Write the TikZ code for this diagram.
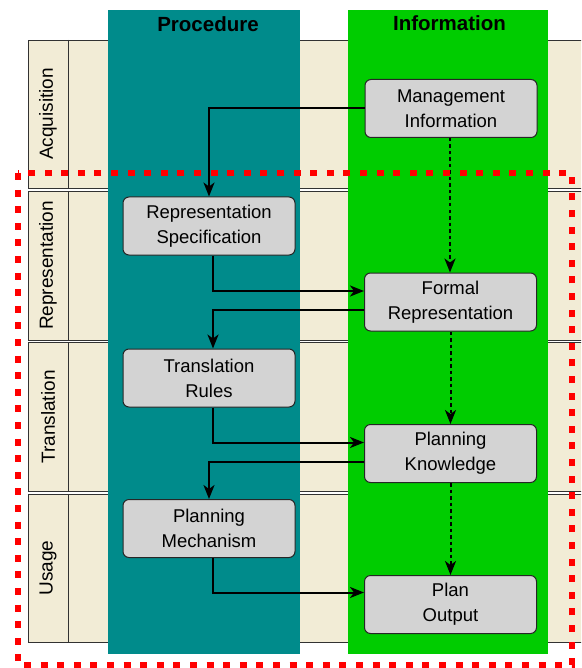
\documentclass[tikz,border=0pt]{standalone}
\usepackage{fontspec}
\setmainfont{Liberation Sans}
\usetikzlibrary{arrows.meta,calc}
\definecolor{lanefill}{RGB}{242,236,214}
\definecolor{laneline}{RGB}{50,50,50}
\definecolor{procteal}{RGB}{0,139,139}
\definecolor{infogreen}{RGB}{0,204,0}
\definecolor{boxgray}{RGB}{211,211,211}
\definecolor{frame}{RGB}{255,0,0}
\tikzset{
  lane/.style={fill=lanefill,draw=laneline,line width=0.9pt},
  lanelabel/.style={rotate=90,font=\fontsize{19}{23}\selectfont},
  colhead/.style={font=\fontsize{20.5}{24}\selectfont\bfseries},
  itembox/.style={draw=black!85,line width=1pt,fill=boxgray,rounded corners=6pt,
    minimum width=172pt,minimum height=58pt,align=center,
    font=\fontsize{18.5}{25}\selectfont},
  flow/.style={line width=2pt,-{Stealth[length=14pt,width=11pt,inset=4pt]}},
  derive/.style={flow,dash pattern=on 3.5pt off 3pt},
  scopeframe/.style={draw=frame,line width=6.5pt,dash pattern=on 7pt off 9.6pt}
}
\begin{document}
\begin{tikzpicture}[x=1pt,y=-1pt]
\useasboundingbox (0,0) rectangle (581,668);
\clip (0,0) rectangle (581,668);
\fill[white] (0,0) rectangle (581,668);

% swimlanes
\foreach \top/\bot/\name in {40/188/Acquisition,191/340/Representation,342.5/491.5/Translation,494/642/Usage}{
  \draw[lane] (28,\top) rectangle (600,\bot);
  \draw[laneline,line width=0.9pt] (68,\top) -- (68,\bot);
  \node[lanelabel] at (48,{(\top+\bot)/2}) {\name};
}

% columns
\fill[procteal] (108,10) rectangle (300,654);
\fill[infogreen] (348,10) rectangle (548,654);
\node[colhead] (hproc) at (208,24) {Procedure};
\node[colhead] (hinfo) at (449.5,23.5) {Information};

% items
\node[itembox] (mi) at (451,108.5) {Management\\Information};
\node[itembox] (rs) at (209,226) {Representation\\Specification};
\node[itembox] (fr) at (450.5,302) {Formal\\Representation};
\node[itembox] (tr) at (209,378) {Translation\\Rules};
\node[itembox] (pk) at (450.5,453.5) {Planning\\Knowledge};
\node[itembox] (pm) at (209,528.5) {Planning\\Mechanism};
\node[itembox] (po) at (450.5,604.5) {Plan\\Output};

% procedure flow
\draw[flow] (mi.west) -| (rs.north);
\draw[flow] ([xshift=4pt]rs.south) |- ([yshift=11pt]fr.west);
\draw[flow] ([yshift=-8pt]fr.west) -| ([xshift=4pt]tr.north);
\draw[flow] ([xshift=4pt]tr.south) |- ([yshift=11pt]pk.west);
\draw[flow] ([yshift=-8pt]pk.west) -| (pm.north);
\draw[flow] ([xshift=4pt]pm.south) |- ([yshift=12pt]po.west);

% information derivation
\draw[derive] ([xshift=-1pt]mi.south) -- ([xshift=-0.5pt]fr.north);
\draw[derive] (fr.south) -- (pk.north);
\draw[derive] (pk.south) -- (po.north);

% scope frame
\draw[scopeframe] (18,173) rectangle (572,665);
\end{tikzpicture}
\end{document}
